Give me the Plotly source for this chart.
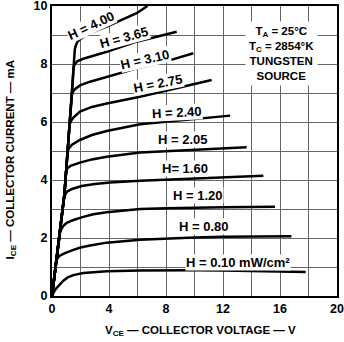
import plotly.graph_objects as go

# ---- data ----
h_labels = ["H = 4.00", "H = 3.65", "H = 3.10", "H = 2.75", "H = 2.40",
            "H = 2.05", "H= 1.60", "H = 1.20", "H = 0.80", "H = 0.10 mW/cm²"]

vce_400 = [0, 0.5, 0.87, 1.38, 1.6, 1.68, 1.8, 2.2, 2.67, 3.84, 5.94, 6.7]
ice_400 = [0, 2.0, 3.5, 6.9, 8.5, 8.65, 8.78, 8.94, 9.07, 9.29, 9.75, 10.0]

vce_365 = [0, 0.5, 0.87, 1.38, 1.52, 1.6, 1.8, 2.2, 2.67, 3.84, 5.94, 8.75]
ice_365 = [0, 2.0, 3.5, 6.9, 7.9, 8.0, 8.1, 8.18, 8.25, 8.42, 8.77, 9.11]

vce_310 = [0, 0.5, 0.87, 1.38, 1.45, 1.6, 2.0, 2.67, 3.84, 5.94, 8.42, 9.92]
ice_310 = [0, 2.0, 3.5, 6.9, 7.02, 7.13, 7.27, 7.39, 7.56, 7.85, 8.15, 8.37]

vce_275 = [0, 0.5, 0.87, 1.23, 1.32, 1.5, 1.96, 2.8, 3.84, 6.18, 8.42, 11.2]
ice_275 = [0, 2.0, 3.5, 5.9, 6.02, 6.15, 6.36, 6.52, 6.64, 6.87, 7.12, 7.45]

vce_240 = [0, 0.5, 0.87, 1.1, 1.2, 1.4, 1.96, 2.8, 3.84, 6.18, 8.0, 10.0, 12.5]
ice_240 = [0, 2.0, 3.5, 5.0, 5.1, 5.22, 5.38, 5.55, 5.69, 5.92, 6.0, 6.1, 6.22]

vce_205 = [0, 0.5, 0.87, 0.99, 1.08, 1.3, 1.96, 2.8, 3.84, 6.18, 8.0, 10.0, 12.0, 13.66]
ice_205 = [0, 2.0, 3.5, 4.3, 4.4, 4.49, 4.6, 4.71, 4.8, 4.95, 5.0, 5.05, 5.1, 5.13]

vce_160 = [0, 0.5, 0.84, 0.93, 1.05, 1.35, 2.08, 3.0, 4.07, 6.18, 8.42, 10.0, 12.0, 14.83]
ice_160 = [0, 2.0, 3.35, 3.5, 3.6, 3.68, 3.79, 3.86, 3.91, 3.97, 4.02, 4.06, 4.1, 4.15]

vce_120 = [0, 0.5, 0.56, 0.65, 0.8, 1.03, 1.5, 2.2, 2.9, 3.84, 6.18, 8.0, 10.0, 12.0, 15.65]
ice_120 = [0, 2.0, 2.18, 2.3, 2.42, 2.52, 2.62, 2.73, 2.82, 2.89, 3.0, 3.03, 3.05, 3.06, 3.08]

vce_080 = [0, 0.3, 0.38, 0.5, 0.7, 0.91, 1.5, 2.0, 2.67, 3.84, 6.18, 8.0, 10.0, 12.0, 14.0, 16.8]
ice_080 = [0, 1.2, 1.29, 1.37, 1.43, 1.48, 1.59, 1.67, 1.74, 1.84, 1.94, 1.99, 2.02, 2.04, 2.05, 2.06]

vce_010 = [0, 0.08, 0.2, 0.44, 0.8, 1.1, 1.5, 2.2, 3.0, 3.84, 6.18, 8.0, 10.0, 12.0, 14.0, 16.0, 17.8]
ice_010 = [0, 0.1, 0.2, 0.34, 0.53, 0.64, 0.72, 0.79, 0.83, 0.85, 0.88, 0.89, 0.89, 0.88, 0.87, 0.86, 0.83]

x_ticks = [0, 4, 8, 12, 16, 20]
y_ticks = [0, 2, 4, 6, 8, 10]

curves = [(vce_400, ice_400), (vce_365, ice_365), (vce_310, ice_310),
          (vce_275, ice_275), (vce_240, ice_240), (vce_205, ice_205),
          (vce_160, ice_160), (vce_120, ice_120), (vce_080, ice_080),
          (vce_010, ice_010)]

FONT = "Liberation Sans, Arial, Helvetica, sans-serif"

fig = go.Figure()
for (xs, ys), name in zip(curves, h_labels):
    fig.add_trace(go.Scatter(x=xs, y=ys, mode="lines", name=name,
                             line=dict(color="black", width=2.5),
                             showlegend=False, hoverinfo="skip"))

# label positions (x, y, angle)
label_pos = [(2.74, 9.34, -25), (5.05, 8.93, -15), (6.53, 8.17, -13), (7.44, 7.34, -11),
             (8.77, 6.34, -3), (9.19, 5.41, 0), (9.33, 4.41, 0), (10.25, 3.45, 0),
             (10.67, 2.38, 0), (13.05, 1.17, 0)]
for (lx, ly, ang), txt in zip(label_pos, h_labels):
    fig.add_annotation(x=lx, y=ly, text=f"<b>{txt}</b>", showarrow=False, textangle=ang,
                       font=dict(family=FONT, size=13, color="black"),
                       bgcolor="white", borderpad=0)

fig.add_annotation(x=16.07, y=8.36,
                   text="<b>T<sub>A</sub> = 25°C<br>T<sub>C</sub> = 2854°K<br>TUNGSTEN<br>SOURCE</b>",
                   showarrow=False, align="center",
                   font=dict(family=FONT, size=11.5, color="black"),
                   bgcolor="white", borderpad=3)

# axis titles
fig.add_annotation(xref="paper", yref="paper", x=-0.145, y=0.47, xanchor="center", yanchor="middle",
                   text="<b>I<sub>CE</sub> — COLLECTOR CURRENT — mA</b>", textangle=-90,
                   showarrow=False, font=dict(family=FONT, size=11.5, color="black"))
fig.add_annotation(xref="paper", yref="paper", x=0.52, y=-0.12, xanchor="center", yanchor="middle",
                   text="<b>V<sub>CE</sub> — COLLECTOR VOLTAGE — V</b>",
                   showarrow=False, font=dict(family=FONT, size=11.5, color="black"))

fig.update_layout(
    width=344, height=342,
    margin=dict(l=52, r=7, t=6, b=46, autoexpand=False),
    paper_bgcolor="white", plot_bgcolor="white",
    font=dict(family=FONT, color="black"),
)
fig.update_xaxes(range=[0, 20], tickvals=x_ticks, ticktext=[str(v) for v in x_ticks],
                 showline=True, mirror=True, linecolor="black", linewidth=2,
                 showgrid=True, gridcolor="#666", gridwidth=1,
                 minor=dict(dtick=2, showgrid=True, gridcolor="#666", gridwidth=1),
                 ticks="", zeroline=False, automargin=False, ticklabeloverflow="allow",
                 tickfont=dict(family=FONT, size=12.5, color="black", weight="bold"))
fig.update_yaxes(range=[0, 10], tickvals=y_ticks, ticktext=[str(v) for v in y_ticks],
                 showline=True, mirror=True, linecolor="black", linewidth=2,
                 showgrid=True, gridcolor="#666", gridwidth=1,
                 minor=dict(dtick=1, showgrid=True, gridcolor="#666", gridwidth=1),
                 ticks="", zeroline=False, automargin=False, ticklabeloverflow="allow",
                 tickfont=dict(family=FONT, size=12.5, color="black", weight="bold"))

fig.write_html("out.html", config={"displayModeBar": False},
               post_script="document.body.style.margin='0';")
